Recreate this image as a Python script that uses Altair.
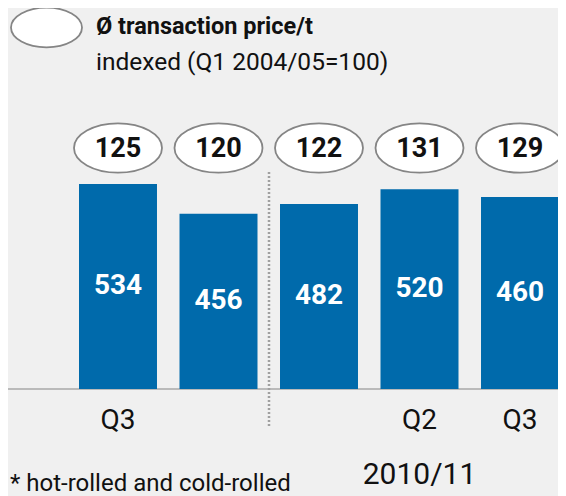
import altair as alt
import pandas as pd

# ---- data ----
periods = ["Q3 2009/10", "Q4 2009/10", "Q1 2010/11", "Q2 2010/11", "Q3 2010/11"]
tick_labels = ["Q3", "", "", "Q2", "Q3"]
price_index = [125, 120, 122, 131, 129]
volume_labels = [534, 456, 482, 520, 460]
bar_heights = [534, 456, 482, 520, 500]  # drawn bar heights as seen in the picture

df = pd.DataFrame({
    "period": periods,
    "tick": tick_labels,
    "price": price_index,
    "volume": volume_labels,
    "height": bar_heights,
})

W, H = 550, 488
FONT = "Roboto"
BLUE = "#006aab"
INK = "#111111"
ELLIPSE = "M -1 0 A 1 0.56 0 1 0 1 0 A 1 0.56 0 1 0 -1 0 Z"

x_enc = alt.X("period:N", sort=periods,
              scale=alt.Scale(domain=periods, range=[71, 551], paddingInner=0.224, paddingOuter=0),
              axis=None)
y_scale = alt.Scale(domain=[0, 992], range=[381, 0])

base = alt.Chart(df)

bars = base.mark_bar(color=BLUE).encode(
    x=x_enc, y=alt.Y("height:Q", scale=y_scale, axis=None))

bar_text = base.transform_calculate(mid="datum.height / 2").mark_text(
    color="white", font=FONT, fontWeight="bold", fontSize=28, baseline="middle"
).encode(x=x_enc, y=alt.Y("mid:Q", scale=y_scale, axis=None), text="volume:Q")

ellipses = base.mark_point(shape=ELLIPSE, size=88 * 88, fill="white", fillOpacity=1,
                           stroke="#858585", strokeWidth=1.8, opacity=1).encode(
    x=x_enc, y=alt.value(140))

ellipse_text = base.mark_text(color=INK, font=FONT, fontWeight="bold", fontSize=27,
                              baseline="middle").encode(
    x=x_enc, y=alt.value(141), text="price:Q")

ticks = base.mark_text(color=INK, font=FONT, fontSize=28, baseline="middle").encode(
    x=x_enc, y=alt.value(413), text="tick:N")

year_df = pd.DataFrame({"period": ["Q2 2010/11"], "label": ["2010/11"]})
year_text = alt.Chart(year_df).mark_text(color=INK, font=FONT, fontSize=30,
                                         baseline="middle").encode(
    x=x_enc, y=alt.value(467), text="label:N")

one = alt.Chart(pd.DataFrame({"a": [0]}))

divider = one.mark_rule(color="#a0a0a0", strokeWidth=2.5, strokeDash=[2, 2]).encode(
    x=alt.value(261), y=alt.value(164), y2=alt.value(418))

baseline = one.mark_rule(color="#a8a8a8", strokeWidth=1.5).encode(
    x=alt.value(0), x2=alt.value(W), y=alt.value(381))

legend_ell = one.mark_point(shape=ELLIPSE, size=71 * 71, fill="white", fillOpacity=1,
                            stroke="#858585", strokeWidth=1.8, opacity=1).encode(
    x=alt.value(38.5), y=alt.value(19.5))

legend_title = one.mark_text(align="left", baseline="middle", font=FONT, fontWeight="bold",
                             fontSize=23.5, color=INK).encode(
    x=alt.value(88), y=alt.value(19), text=alt.value("Ø transaction price/t"))

legend_sub = one.mark_text(align="left", baseline="middle", font=FONT, fontSize=24.5,
                           color=INK).encode(
    x=alt.value(88), y=alt.value(55), text=alt.value("indexed (Q1 2004/05=100)"))

footnote = one.mark_text(align="left", baseline="middle", font=FONT, fontSize=24,
                         color=INK).encode(
    x=alt.value(2), y=alt.value(476), text=alt.value("* hot-rolled and cold-rolled"))

chart = alt.layer(
    baseline, divider, bars, bar_text, ellipses, ellipse_text, ticks, year_text,
    legend_ell, legend_title, legend_sub, footnote
).properties(
    width=W, height=H,
    autosize=alt.AutoSizeParams(type="none"),
    padding=0,
    background="#f0f0f0",
).configure_view(stroke=None)

chart.save("out.html", embed_options={"renderer": "svg", "actions": False})
